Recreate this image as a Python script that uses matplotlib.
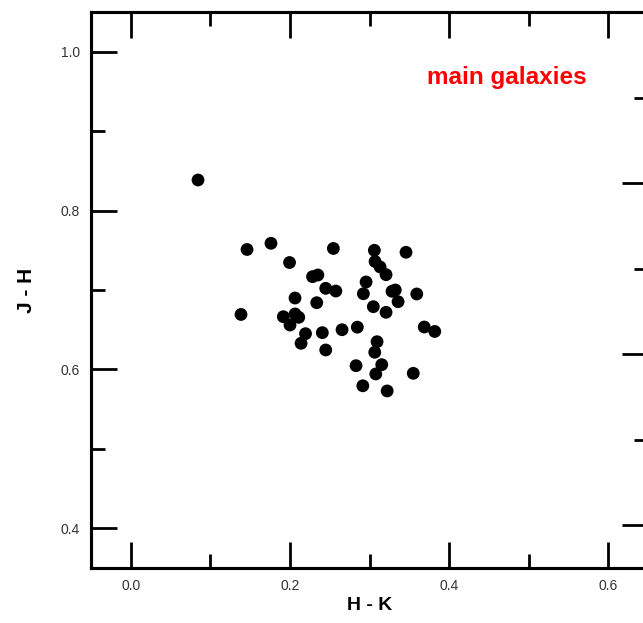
import matplotlib
matplotlib.use("Agg")
import matplotlib.pyplot as plt
from matplotlib.ticker import MultipleLocator, FixedLocator, NullFormatter

# H-K and J-H colours of the main galaxies
hk = [0.0845, 0.1461, 0.1762, 0.1995, 0.1385, 0.2546, 0.3061, 0.3459, 0.3070,
      0.3133, 0.3208, 0.2284, 0.2351, 0.2450, 0.2577, 0.2957, 0.2923, 0.3283,
      0.3324, 0.3359, 0.3594, 0.2064, 0.2337, 0.3048, 0.3208, 0.1917, 0.2064,
      0.2111, 0.2001, 0.2196, 0.2140, 0.2407, 0.2655, 0.2847, 0.2450, 0.3688,
      0.3820, 0.3095, 0.3066, 0.2831, 0.3154, 0.3079, 0.3550, 0.2916, 0.3222]
jh = [0.8385, 0.7510, 0.7588, 0.7346, 0.6692, 0.7523, 0.7500, 0.7475, 0.7359,
      0.7290, 0.7193, 0.7168, 0.7189, 0.7021, 0.6987, 0.7101, 0.6953, 0.6984,
      0.7000, 0.6853, 0.6950, 0.6899, 0.6840, 0.6790, 0.6719, 0.6664, 0.6698,
      0.6656, 0.6559, 0.6450, 0.6329, 0.6463, 0.6500, 0.6532, 0.6245, 0.6534,
      0.6478, 0.6349, 0.6216, 0.6047, 0.6060, 0.5943, 0.5951, 0.5794, 0.5729]

x_ticks = [0.0, 0.2, 0.4, 0.6]
y_ticks = [0.4, 0.6, 0.8, 1.0]
title = "main galaxies"

plt.rcParams["font.family"] = ["Liberation Sans", "DejaVu Sans"]

fig = plt.figure(figsize=(6.43, 6.23), dpi=100)
ax = fig.add_axes([91 / 643, 55 / 623, 557 / 643, 556 / 623])

ax.scatter(hk, jh, s=85, color="black", edgecolors="none", zorder=3)

ax.set_xlim(-0.05, 0.65)
ax.set_ylim(0.35, 1.05)
ax.xaxis.set_major_locator(FixedLocator(x_ticks))
ax.yaxis.set_major_locator(FixedLocator(y_ticks))
ax.xaxis.set_minor_locator(MultipleLocator(0.1))
ax.yaxis.set_minor_locator(MultipleLocator(0.1))
ax.set_xticklabels([f"{v:.1f}" for v in x_ticks])
ax.set_yticklabels([f"{v:.1f}" for v in y_ticks])

ax.tick_params(which="both", direction="in", top=True, right=False,
               width=2, labelsize=10, labelcolor="#333333")
ax.tick_params(which="major", length=19, pad=8)
ax.tick_params(which="minor", length=10)
for sp in ax.spines.values():
    sp.set_linewidth(2.2)

ax.set_xlabel("H - K", fontsize=14, fontweight="bold", labelpad=3)
ax.set_ylabel("J - H", fontsize=15, fontweight="bold", labelpad=18)

# right-hand scale: ticks only, no labels
rax = ax.twinx()
rax.set_ylim(-0.05, 0.6)
rax.yaxis.set_major_locator(FixedLocator([0.0, 0.2, 0.4]))
rax.yaxis.set_minor_locator(FixedLocator([0.1, 0.3, 0.5]))
rax.yaxis.set_major_formatter(NullFormatter())
rax.tick_params(which="both", direction="in", width=2)
rax.tick_params(which="major", length=19)
rax.tick_params(which="minor", length=10)
for sp in rax.spines.values():
    sp.set_linewidth(2.2)

ax.text(0.747, 0.883, title, transform=ax.transAxes, color="red",
        fontsize=17.5, fontweight="bold", ha="center", va="center")

fig.savefig("out.png", dpi=100)
